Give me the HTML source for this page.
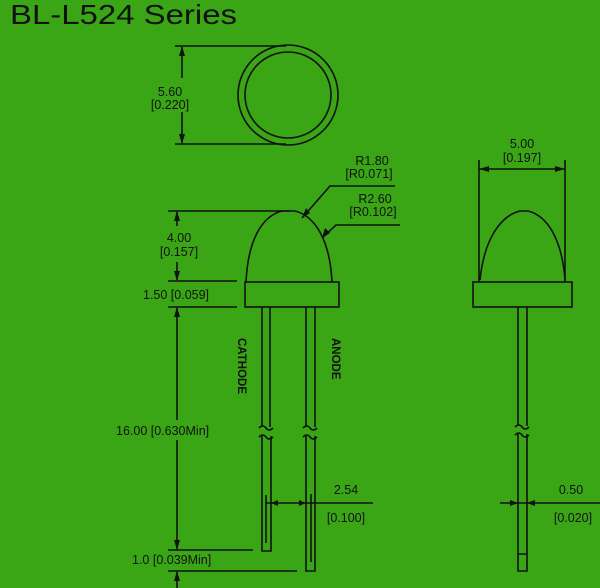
<!DOCTYPE html>
<html><head><meta charset="utf-8"><style>
html,body{margin:0;padding:0;background:#3aa616;}
svg{display:block}
text{font-family:"Liberation Sans",Arial,sans-serif;fill:#111;}
</style></head><body>
<svg width="600" height="588" viewBox="0 0 600 588" xmlns="http://www.w3.org/2000/svg">
<rect width="600" height="588" fill="#3aa616"/>
<text x="10" y="24" font-size="28" textLength="227" lengthAdjust="spacingAndGlyphs">BL-L524 Series</text>
<g stroke="#111" fill="none" stroke-width="1.6">
<circle cx="288" cy="95" r="50"/>
<circle cx="288" cy="95" r="43"/>
<line x1="175" y1="46" x2="286" y2="46"/>
<line x1="175" y1="144" x2="286" y2="144"/>
<line x1="182" y1="47" x2="182" y2="78"/>
<line x1="182" y1="112" x2="182" y2="143"/>
<path d="M246 282 C248 240 262 216 282 211 L295 211 C315 216 330 240 332 282"/>
<rect x="245" y="282" width="94" height="25"/>
<path d="M262 307 V427 M270 307 V427 M306 307 V427 M315 307 V427"/>
<path d="M262 436 V551 H271 V436 M306 436 V571 H315 V436"/>
<path d="M259 428 q4 -4 7 0 t7 0 M259 437 q4 -4 7 0 t7 0 M303 428 q4 -4 7 0 t7 0 M303 437 q4 -4 7 0 t7 0"/>
<line x1="266" y1="495" x2="266" y2="543"/>
<line x1="311" y1="494" x2="311" y2="562"/>
<line x1="266" y1="503" x2="373" y2="503"/>
<line x1="168" y1="211" x2="290" y2="211"/>
<line x1="168" y1="281" x2="237" y2="281"/>
<line x1="168" y1="307" x2="237" y2="307"/>
<line x1="168" y1="550" x2="253" y2="550"/>
<line x1="168" y1="571" x2="297" y2="571"/>
<line x1="177" y1="212" x2="177" y2="226"/>
<line x1="177" y1="262" x2="177" y2="280"/>
<line x1="177" y1="308" x2="177" y2="420"/>
<line x1="177" y1="440" x2="177" y2="549"/>
<line x1="177" y1="572" x2="177" y2="588"/>
<polyline points="302,218 330,186 395,186"/>
<polyline points="322,238 336,225 400,225"/>
<line x1="479" y1="160" x2="479" y2="282"/>
<line x1="565" y1="160" x2="565" y2="282"/>
<line x1="479" y1="169" x2="565" y2="169"/>
<path d="M480 280 C484 240 500 216 520 211 L528 211 C548 216 562 240 565 280"/>
<rect x="473" y="282" width="99" height="25"/>
<path d="M518 307 V426 M527 307 V426 M518 434 V571 H527 V434 M518 554 H527"/>
<path d="M515 427 q4 -4 7 0 t7 0 M515 435 q4 -4 7 0 t7 0"/>
<line x1="500" y1="503" x2="600" y2="503"/>
</g>
<g fill="#111">
<polygon points="182,46 179,56 185,56"/><polygon points="182,144 179,134 185,134"/>
<polygon points="177,211 174,221 180,221"/><polygon points="177,281 174,271 180,271"/>
<polygon points="177,307 174,317 180,317"/><polygon points="177,550 174,540 180,540"/>
<polygon points="177,571 174,581 180,581"/>
<polygon points="479,169 489,166 489,172"/><polygon points="565,169 555,166 555,172"/>
<polygon points="302,218 306,208 310,213"/><polygon points="322,238 325,228 330,233"/>
<polygon points="271,503 278,500 278,506"/><polygon points="306,503 299,500 299,506"/>
<polygon points="518,503 510,500 510,506"/><polygon points="527,503 535,500 535,506"/>
</g>
<g font-size="12.5">
<text x="170" y="96" text-anchor="middle">5.60</text>
<text x="170" y="109" text-anchor="middle">[0.220]</text>
<text x="179" y="242" text-anchor="middle">4.00</text>
<text x="179" y="256" text-anchor="middle">[0.157]</text>
<text x="143" y="299">1.50 [0.059]</text>
<text x="116" y="435">16.00 [0.630Min]</text>
<text x="132" y="564">1.0 [0.039Min]</text>
<text x="372" y="165" text-anchor="middle">R1.80</text>
<text x="369" y="178" text-anchor="middle">[R0.071]</text>
<text x="375" y="203" text-anchor="middle">R2.60</text>
<text x="373" y="216" text-anchor="middle">[R0.102]</text>
<text x="522" y="148" text-anchor="middle">5.00</text>
<text x="522" y="162" text-anchor="middle">[0.197]</text>
<text x="346" y="494" text-anchor="middle">2.54</text>
<text x="346" y="522" text-anchor="middle">[0.100]</text>
<text x="571" y="494" text-anchor="middle">0.50</text>
<text x="573" y="522" text-anchor="middle">[0.020]</text>
<text transform="translate(238,338) rotate(90)" font-weight="bold" font-size="11.5">CATHODE</text>
<text transform="translate(332,338) rotate(90)" font-weight="bold" font-size="11.5">ANODE</text>
</g>
</svg>
</body></html>
